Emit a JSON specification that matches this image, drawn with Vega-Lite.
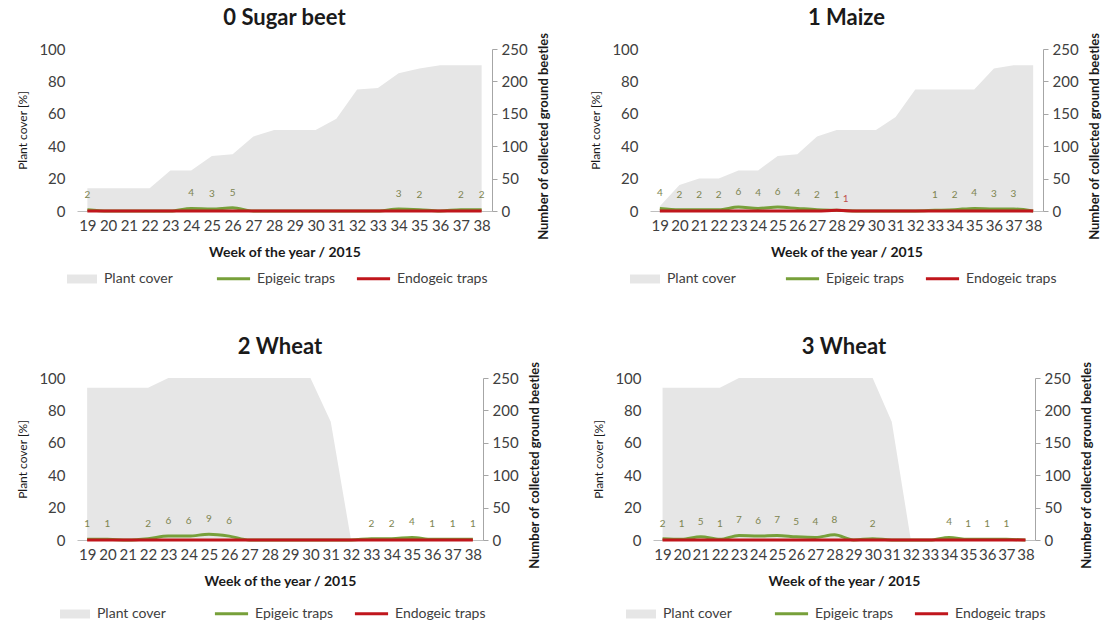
{
  "$schema": "https://vega.github.io/schema/vega-lite/v6.json",
  "padding": {"left": 16, "top": 7, "right": 4, "bottom": 0},
  "background": "white",
  "datasets": {
    "rows": [
      {"crop": "Sugar beet", "week": 19, "cover": 14, "Epigeic traps": 2, "Endogeic traps": 0},
      {"crop": "Sugar beet", "week": 20, "cover": 14, "Epigeic traps": 0, "Endogeic traps": 0},
      {"crop": "Sugar beet", "week": 21, "cover": 14, "Epigeic traps": 0, "Endogeic traps": 0},
      {"crop": "Sugar beet", "week": 22, "cover": 14, "Epigeic traps": 0, "Endogeic traps": 0},
      {"crop": "Sugar beet", "week": 23, "cover": 25, "Epigeic traps": 0, "Endogeic traps": 0},
      {"crop": "Sugar beet", "week": 24, "cover": 25, "Epigeic traps": 4, "Endogeic traps": 0},
      {"crop": "Sugar beet", "week": 25, "cover": 34, "Epigeic traps": 3, "Endogeic traps": 0},
      {"crop": "Sugar beet", "week": 26, "cover": 35, "Epigeic traps": 5, "Endogeic traps": 0},
      {"crop": "Sugar beet", "week": 27, "cover": 46, "Epigeic traps": 0, "Endogeic traps": 0},
      {"crop": "Sugar beet", "week": 28, "cover": 50, "Epigeic traps": 0, "Endogeic traps": 0},
      {"crop": "Sugar beet", "week": 29, "cover": 50, "Epigeic traps": 0, "Endogeic traps": 0},
      {"crop": "Sugar beet", "week": 30, "cover": 50, "Epigeic traps": 0, "Endogeic traps": 0},
      {"crop": "Sugar beet", "week": 31, "cover": 57, "Epigeic traps": 0, "Endogeic traps": 0},
      {"crop": "Sugar beet", "week": 32, "cover": 75, "Epigeic traps": 0, "Endogeic traps": 0},
      {"crop": "Sugar beet", "week": 33, "cover": 76, "Epigeic traps": 0, "Endogeic traps": 0},
      {"crop": "Sugar beet", "week": 34, "cover": 85, "Epigeic traps": 3, "Endogeic traps": 0},
      {"crop": "Sugar beet", "week": 35, "cover": 88, "Epigeic traps": 2, "Endogeic traps": 0},
      {"crop": "Sugar beet", "week": 36, "cover": 90, "Epigeic traps": 0, "Endogeic traps": 0},
      {"crop": "Sugar beet", "week": 37, "cover": 90, "Epigeic traps": 2, "Endogeic traps": 0},
      {"crop": "Sugar beet", "week": 38, "cover": 90, "Epigeic traps": 2, "Endogeic traps": 0},
      {"crop": "Maize", "week": 19, "cover": 3, "Epigeic traps": 4, "Endogeic traps": 0},
      {"crop": "Maize", "week": 20, "cover": 16, "Epigeic traps": 2, "Endogeic traps": 0},
      {"crop": "Maize", "week": 21, "cover": 20, "Epigeic traps": 2, "Endogeic traps": 0},
      {"crop": "Maize", "week": 22, "cover": 20, "Epigeic traps": 2, "Endogeic traps": 0},
      {"crop": "Maize", "week": 23, "cover": 25, "Epigeic traps": 6, "Endogeic traps": 0},
      {"crop": "Maize", "week": 24, "cover": 25, "Epigeic traps": 4, "Endogeic traps": 0},
      {"crop": "Maize", "week": 25, "cover": 34, "Epigeic traps": 6, "Endogeic traps": 0},
      {"crop": "Maize", "week": 26, "cover": 35, "Epigeic traps": 4, "Endogeic traps": 0},
      {"crop": "Maize", "week": 27, "cover": 46, "Epigeic traps": 2, "Endogeic traps": 0},
      {"crop": "Maize", "week": 28, "cover": 50, "Epigeic traps": 1, "Endogeic traps": 1},
      {"crop": "Maize", "week": 29, "cover": 50, "Epigeic traps": 0, "Endogeic traps": 0},
      {"crop": "Maize", "week": 30, "cover": 50, "Epigeic traps": 0, "Endogeic traps": 0},
      {"crop": "Maize", "week": 31, "cover": 58, "Epigeic traps": 0, "Endogeic traps": 0},
      {"crop": "Maize", "week": 32, "cover": 75, "Epigeic traps": 0, "Endogeic traps": 0},
      {"crop": "Maize", "week": 33, "cover": 75, "Epigeic traps": 1, "Endogeic traps": 0},
      {"crop": "Maize", "week": 34, "cover": 75, "Epigeic traps": 2, "Endogeic traps": 0},
      {"crop": "Maize", "week": 35, "cover": 75, "Epigeic traps": 4, "Endogeic traps": 0},
      {"crop": "Maize", "week": 36, "cover": 88, "Epigeic traps": 3, "Endogeic traps": 0},
      {"crop": "Maize", "week": 37, "cover": 90, "Epigeic traps": 3, "Endogeic traps": 0},
      {"crop": "Maize", "week": 38, "cover": 90, "Epigeic traps": 0, "Endogeic traps": 0},
      {"crop": "Wheat 2", "week": 19, "cover": 94, "Epigeic traps": 1, "Endogeic traps": 0},
      {"crop": "Wheat 2", "week": 20, "cover": 94, "Epigeic traps": 1, "Endogeic traps": 0},
      {"crop": "Wheat 2", "week": 21, "cover": 94, "Epigeic traps": 0, "Endogeic traps": 0},
      {"crop": "Wheat 2", "week": 22, "cover": 94, "Epigeic traps": 2, "Endogeic traps": 0},
      {"crop": "Wheat 2", "week": 23, "cover": 100, "Epigeic traps": 6, "Endogeic traps": 0},
      {"crop": "Wheat 2", "week": 24, "cover": 100, "Epigeic traps": 6, "Endogeic traps": 0},
      {"crop": "Wheat 2", "week": 25, "cover": 100, "Epigeic traps": 9, "Endogeic traps": 0},
      {"crop": "Wheat 2", "week": 26, "cover": 100, "Epigeic traps": 6, "Endogeic traps": 0},
      {"crop": "Wheat 2", "week": 27, "cover": 100, "Epigeic traps": 0, "Endogeic traps": 0},
      {"crop": "Wheat 2", "week": 28, "cover": 100, "Epigeic traps": 0, "Endogeic traps": 0},
      {"crop": "Wheat 2", "week": 29, "cover": 100, "Epigeic traps": 0, "Endogeic traps": 0},
      {"crop": "Wheat 2", "week": 30, "cover": 100, "Epigeic traps": 0, "Endogeic traps": 0},
      {"crop": "Wheat 2", "week": 31, "cover": 73, "Epigeic traps": 0, "Endogeic traps": 0},
      {"crop": "Wheat 2", "week": 32, "cover": 0, "Epigeic traps": 0, "Endogeic traps": 0},
      {"crop": "Wheat 2", "week": 33, "cover": 0, "Epigeic traps": 2, "Endogeic traps": 0},
      {"crop": "Wheat 2", "week": 34, "cover": 0, "Epigeic traps": 2, "Endogeic traps": 0},
      {"crop": "Wheat 2", "week": 35, "cover": 0, "Epigeic traps": 4, "Endogeic traps": 0},
      {"crop": "Wheat 2", "week": 36, "cover": 0, "Epigeic traps": 1, "Endogeic traps": 0},
      {"crop": "Wheat 2", "week": 37, "cover": 0, "Epigeic traps": 1, "Endogeic traps": 0},
      {"crop": "Wheat 2", "week": 38, "cover": 0, "Epigeic traps": 1, "Endogeic traps": 0},
      {"crop": "Wheat 3", "week": 19, "cover": 94, "Epigeic traps": 2, "Endogeic traps": 0},
      {"crop": "Wheat 3", "week": 20, "cover": 94, "Epigeic traps": 1, "Endogeic traps": 0},
      {"crop": "Wheat 3", "week": 21, "cover": 94, "Epigeic traps": 5, "Endogeic traps": 0},
      {"crop": "Wheat 3", "week": 22, "cover": 94, "Epigeic traps": 1, "Endogeic traps": 0},
      {"crop": "Wheat 3", "week": 23, "cover": 100, "Epigeic traps": 7, "Endogeic traps": 0},
      {"crop": "Wheat 3", "week": 24, "cover": 100, "Epigeic traps": 6, "Endogeic traps": 0},
      {"crop": "Wheat 3", "week": 25, "cover": 100, "Epigeic traps": 7, "Endogeic traps": 0},
      {"crop": "Wheat 3", "week": 26, "cover": 100, "Epigeic traps": 5, "Endogeic traps": 0},
      {"crop": "Wheat 3", "week": 27, "cover": 100, "Epigeic traps": 4, "Endogeic traps": 0},
      {"crop": "Wheat 3", "week": 28, "cover": 100, "Epigeic traps": 8, "Endogeic traps": 0},
      {"crop": "Wheat 3", "week": 29, "cover": 100, "Epigeic traps": 0, "Endogeic traps": 0},
      {"crop": "Wheat 3", "week": 30, "cover": 100, "Epigeic traps": 2, "Endogeic traps": 0},
      {"crop": "Wheat 3", "week": 31, "cover": 73, "Epigeic traps": 0, "Endogeic traps": 0},
      {"crop": "Wheat 3", "week": 32, "cover": 0, "Epigeic traps": 0, "Endogeic traps": 0},
      {"crop": "Wheat 3", "week": 33, "cover": 0, "Epigeic traps": 0, "Endogeic traps": 0},
      {"crop": "Wheat 3", "week": 34, "cover": 0, "Epigeic traps": 4, "Endogeic traps": 0},
      {"crop": "Wheat 3", "week": 35, "cover": 0, "Epigeic traps": 1, "Endogeic traps": 0},
      {"crop": "Wheat 3", "week": 36, "cover": 0, "Epigeic traps": 1, "Endogeic traps": 0},
      {"crop": "Wheat 3", "week": 37, "cover": 0, "Epigeic traps": 1, "Endogeic traps": 0},
      {"crop": "Wheat 3", "week": 38, "cover": 0, "Epigeic traps": 0, "Endogeic traps": 0}
    ]
  },
  "vconcat": [
    {
      "hconcat": [
        {
          "width": 415, "height": 162,
          "title": "0 Sugar beet",
          "data": {"name": "rows"},
          "transform": [{"filter": "datum.crop === 'Sugar beet'"}],
          "encoding": {"x": {"field": "week", "type": "ordinal", "scale": {"type": "point", "padding": 0.5}, "title": "Week of the year / 2015", "axis": {"labelAngle": 0, "ticks": false, "labelPadding": 7, "titlePadding": 12, "titleFontSize": 14, "titleFontWeight": "bold", "labelOverlap": false, "domainColor": "#bfbfbf"}}},
          "layer": [
            {"mark": {"type": "area", "interpolate": "linear", "strokeWidth": 0},
             "encoding": {
               "y": {"field": "cover", "type": "quantitative", "scale": {"domain": [0, 100]}, "title": "Plant cover [%]", "axis": {"orient": "left", "values": [0, 20, 40, 60, 80, 100], "domain": false, "ticks": false, "labelPadding": 12, "titlePadding": 9}},
               "fill": {"datum": "Plant cover", "type": "nominal", "scale": {"domain": ["Plant cover"], "range": ["#e6e6e6"]}, "legend": {"orient": "none", "legendX": -5, "legendY": 220, "title": null, "symbolType": "M-1.5,-0.45H1.5V0.45H-1.5Z", "symbolSize": 400, "symbolStrokeWidth": 0, "labelOffset": 12}}
             }},
            {"transform": [{"fold": ["Epigeic traps", "Endogeic traps"], "as": ["trap", "n"]}],
             "encoding": {"y": {"field": "n", "type": "quantitative", "scale": {"domain": [0, 250]}, "title": "Number of collected ground beetles", "axis": {"orient": "right", "values": [0, 50, 100, 150, 200, 250], "tickSize": 5, "labelPadding": 4, "titlePadding": 10, "titleAngle": -90, "titleBaseline": "top", "titleY": 87, "titleFontWeight": "bold", "titleFontSize": 13}}},
             "layer": [
               {"mark": {"type": "line", "interpolate": "monotone", "strokeWidth": 3},
                "encoding": {"stroke": {"field": "trap", "type": "nominal", "scale": {"domain": ["Epigeic traps", "Endogeic traps"], "range": ["#77a03a", "#c0161c"]}, "legend": {"orient": "none", "legendX": 138, "legendY": 211, "direction": "horizontal", "title": null, "symbolType": "stroke", "symbolSize": 1100, "symbolStrokeWidth": 3, "columnPadding": 14, "labelOffset": 5}}}},
               {"transform": [{"filter": "datum.n > 0 && datum.trap === 'Epigeic traps'"}],
                "mark": {"type": "text", "dy": -15, "fontSize": 10, "color": "#7d8450"},
                "encoding": {"text": {"field": "n", "type": "quantitative"}}},
               {"transform": [{"filter": "datum.n > 0 && datum.trap === 'Endogeic traps'"}],
                "mark": {"type": "text", "dy": -11, "dx": 9, "fontSize": 10, "color": "#c0504d"},
                "encoding": {"text": {"field": "n", "type": "quantitative"}}}
             ]}
          ],
          "resolve": {"scale": {"y": "independent"}}
        },
        {
          "width": 393, "height": 162,
          "title": "1 Maize",
          "data": {"name": "rows"},
          "transform": [{"filter": "datum.crop === 'Maize'"}],
          "encoding": {"x": {"field": "week", "type": "ordinal", "scale": {"type": "point", "padding": 0.5}, "title": "Week of the year / 2015", "axis": {"labelAngle": 0, "ticks": false, "labelPadding": 7, "titlePadding": 12, "titleFontSize": 14, "titleFontWeight": "bold", "labelOverlap": false, "domainColor": "#bfbfbf"}}},
          "layer": [
            {"mark": {"type": "area", "interpolate": "linear", "strokeWidth": 0},
             "encoding": {
               "y": {"field": "cover", "type": "quantitative", "scale": {"domain": [0, 100]}, "title": "Plant cover [%]", "axis": {"orient": "left", "values": [0, 20, 40, 60, 80, 100], "domain": false, "ticks": false, "labelPadding": 12, "titlePadding": 9}},
               "fill": {"datum": "Plant cover", "type": "nominal", "scale": {"domain": ["Plant cover"], "range": ["#e6e6e6"]}, "legend": {"orient": "none", "legendX": -15, "legendY": 220, "title": null, "symbolType": "M-1.5,-0.45H1.5V0.45H-1.5Z", "symbolSize": 400, "symbolStrokeWidth": 0, "labelOffset": 12}}
             }},
            {"transform": [{"fold": ["Epigeic traps", "Endogeic traps"], "as": ["trap", "n"]}],
             "encoding": {"y": {"field": "n", "type": "quantitative", "scale": {"domain": [0, 250]}, "title": "Number of collected ground beetles", "axis": {"orient": "right", "values": [0, 50, 100, 150, 200, 250], "tickSize": 5, "labelPadding": 4, "titlePadding": 10, "titleAngle": -90, "titleBaseline": "top", "titleY": 87, "titleFontWeight": "bold", "titleFontSize": 13}}},
             "layer": [
               {"mark": {"type": "line", "interpolate": "monotone", "strokeWidth": 3},
                "encoding": {"stroke": {"field": "trap", "type": "nominal", "scale": {"domain": ["Epigeic traps", "Endogeic traps"], "range": ["#77a03a", "#c0161c"]}, "legend": {"orient": "none", "legendX": 134, "legendY": 211, "direction": "horizontal", "title": null, "symbolType": "stroke", "symbolSize": 1100, "symbolStrokeWidth": 3, "columnPadding": 14, "labelOffset": 5}}}},
               {"transform": [{"filter": "datum.n > 0 && datum.trap === 'Epigeic traps'"}],
                "mark": {"type": "text", "dy": -15, "fontSize": 10, "color": "#7d8450"},
                "encoding": {"text": {"field": "n", "type": "quantitative"}}},
               {"transform": [{"filter": "datum.n > 0 && datum.trap === 'Endogeic traps'"}],
                "mark": {"type": "text", "dy": -11, "dx": 9, "fontSize": 10, "color": "#c0504d"},
                "encoding": {"text": {"field": "n", "type": "quantitative"}}}
             ]}
          ],
          "resolve": {"scale": {"y": "independent"}}
        }
      ],
      "spacing": 38,
      "resolve": {"legend": {"fill": "independent", "stroke": "independent"}}
    },
    {
      "hconcat": [
        {
          "width": 406, "height": 162,
          "title": "2 Wheat",
          "data": {"name": "rows"},
          "transform": [{"filter": "datum.crop === 'Wheat 2'"}],
          "encoding": {"x": {"field": "week", "type": "ordinal", "scale": {"type": "point", "padding": 0.5}, "title": "Week of the year / 2015", "axis": {"labelAngle": 0, "ticks": false, "labelPadding": 7, "titlePadding": 12, "titleFontSize": 14, "titleFontWeight": "bold", "labelOverlap": false, "domainColor": "#bfbfbf"}}},
          "layer": [
            {"mark": {"type": "area", "interpolate": "linear", "strokeWidth": 0},
             "encoding": {
               "y": {"field": "cover", "type": "quantitative", "scale": {"domain": [0, 100]}, "title": "Plant cover [%]", "axis": {"orient": "left", "values": [0, 20, 40, 60, 80, 100], "domain": false, "ticks": false, "labelPadding": 12, "titlePadding": 9}},
               "fill": {"datum": "Plant cover", "type": "nominal", "scale": {"domain": ["Plant cover"], "range": ["#e6e6e6"]}, "legend": {"orient": "none", "legendX": -12, "legendY": 226, "title": null, "symbolType": "M-1.5,-0.45H1.5V0.45H-1.5Z", "symbolSize": 400, "symbolStrokeWidth": 0, "labelOffset": 12}}
             }},
            {"transform": [{"fold": ["Epigeic traps", "Endogeic traps"], "as": ["trap", "n"]}],
             "encoding": {"y": {"field": "n", "type": "quantitative", "scale": {"domain": [0, 250]}, "title": "Number of collected ground beetles", "axis": {"orient": "right", "values": [0, 50, 100, 150, 200, 250], "tickSize": 5, "labelPadding": 4, "titlePadding": 10, "titleAngle": -90, "titleBaseline": "top", "titleY": 87, "titleFontWeight": "bold", "titleFontSize": 13}}},
             "layer": [
               {"mark": {"type": "line", "interpolate": "monotone", "strokeWidth": 3},
                "encoding": {"stroke": {"field": "trap", "type": "nominal", "scale": {"domain": ["Epigeic traps", "Endogeic traps"], "range": ["#77a03a", "#c0161c"]}, "legend": {"orient": "none", "legendX": 136, "legendY": 217, "direction": "horizontal", "title": null, "symbolType": "stroke", "symbolSize": 1100, "symbolStrokeWidth": 3, "columnPadding": 14, "labelOffset": 5}}}},
               {"transform": [{"filter": "datum.n > 0 && datum.trap === 'Epigeic traps'"}],
                "mark": {"type": "text", "dy": -15, "fontSize": 10, "color": "#7d8450"},
                "encoding": {"text": {"field": "n", "type": "quantitative"}}},
               {"transform": [{"filter": "datum.n > 0 && datum.trap === 'Endogeic traps'"}],
                "mark": {"type": "text", "dy": -11, "dx": 9, "fontSize": 10, "color": "#c0504d"},
                "encoding": {"text": {"field": "n", "type": "quantitative"}}}
             ]}
          ],
          "resolve": {"scale": {"y": "independent"}}
        },
        {
          "width": 382, "height": 162,
          "title": "3 Wheat",
          "data": {"name": "rows"},
          "transform": [{"filter": "datum.crop === 'Wheat 3'"}],
          "encoding": {"x": {"field": "week", "type": "ordinal", "scale": {"type": "point", "padding": 0.5}, "title": "Week of the year / 2015", "axis": {"labelAngle": 0, "ticks": false, "labelPadding": 7, "titlePadding": 12, "titleFontSize": 14, "titleFontWeight": "bold", "labelOverlap": false, "domainColor": "#bfbfbf"}}},
          "layer": [
            {"mark": {"type": "area", "interpolate": "linear", "strokeWidth": 0},
             "encoding": {
               "y": {"field": "cover", "type": "quantitative", "scale": {"domain": [0, 100]}, "title": "Plant cover [%]", "axis": {"orient": "left", "values": [0, 20, 40, 60, 80, 100], "domain": false, "ticks": false, "labelPadding": 12, "titlePadding": 9}},
               "fill": {"datum": "Plant cover", "type": "nominal", "scale": {"domain": ["Plant cover"], "range": ["#e6e6e6"]}, "legend": {"orient": "none", "legendX": -22, "legendY": 226, "title": null, "symbolType": "M-1.5,-0.45H1.5V0.45H-1.5Z", "symbolSize": 400, "symbolStrokeWidth": 0, "labelOffset": 12}}
             }},
            {"transform": [{"fold": ["Epigeic traps", "Endogeic traps"], "as": ["trap", "n"]}],
             "encoding": {"y": {"field": "n", "type": "quantitative", "scale": {"domain": [0, 250]}, "title": "Number of collected ground beetles", "axis": {"orient": "right", "values": [0, 50, 100, 150, 200, 250], "tickSize": 5, "labelPadding": 4, "titlePadding": 10, "titleAngle": -90, "titleBaseline": "top", "titleY": 87, "titleFontWeight": "bold", "titleFontSize": 13}}},
             "layer": [
               {"mark": {"type": "line", "interpolate": "monotone", "strokeWidth": 3},
                "encoding": {"stroke": {"field": "trap", "type": "nominal", "scale": {"domain": ["Epigeic traps", "Endogeic traps"], "range": ["#77a03a", "#c0161c"]}, "legend": {"orient": "none", "legendX": 120, "legendY": 217, "direction": "horizontal", "title": null, "symbolType": "stroke", "symbolSize": 1100, "symbolStrokeWidth": 3, "columnPadding": 14, "labelOffset": 5}}}},
               {"transform": [{"filter": "datum.n > 0 && datum.trap === 'Epigeic traps'"}],
                "mark": {"type": "text", "dy": -15, "fontSize": 10, "color": "#7d8450"},
                "encoding": {"text": {"field": "n", "type": "quantitative"}}},
               {"transform": [{"filter": "datum.n > 0 && datum.trap === 'Endogeic traps'"}],
                "mark": {"type": "text", "dy": -11, "dx": 9, "fontSize": 10, "color": "#c0504d"},
                "encoding": {"text": {"field": "n", "type": "quantitative"}}}
             ]}
          ],
          "resolve": {"scale": {"y": "independent"}}
        }
      ],
      "spacing": 50,
      "resolve": {"legend": {"fill": "independent", "stroke": "independent"}}
    }
  ],
  "spacing": 50,
  "resolve": {"legend": {"fill": "independent", "stroke": "independent"}},
  "config": {
    "font": "Lato",
    "view": {"stroke": null},
    "title": {"fontSize": 22, "fontWeight": "bold", "color": "#1a1a1a", "offset": 2, "frame": "group", "anchor": "middle"},
    "axis": {"grid": false, "labelFontSize": 15, "labelColor": "#404040", "titleFontSize": 12, "titleColor": "#1a1a1a", "titleFontWeight": "normal", "domainColor": "#a6a6a6", "tickColor": "#a6a6a6"},
    "legend": {"labelFontSize": 14, "labelColor": "#404040"},
    "text": {"baseline": "middle", "align": "center"}
  }
}
